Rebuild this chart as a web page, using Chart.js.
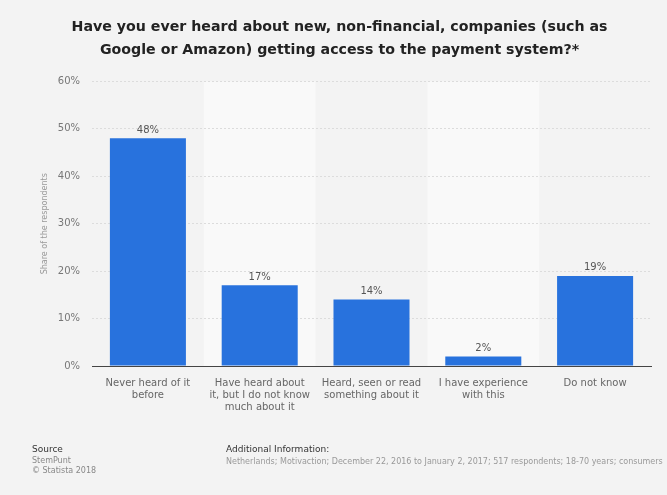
<!DOCTYPE html>
<html lang="en">

<head>
    <meta charset="UTF-8">
    <title>Non-financial companies and the payment system</title>
    <script src="https://cdn.jsdelivr.net/npm/chart.js"></script>
    <style>
        body { margin: 0; background: #f3f3f3; }
    </style>
</head>

<body>
    <canvas id="myChart" width="667" height="495"></canvas>
    <script>
        const categories = [
            ['Never heard of it', 'before'],
            ['Have heard about', 'it, but I do not know', 'much about it'],
            ['Heard, seen or read', 'something about it'],
            ['I have experience', 'with this'],
            ['Do not know']
        ];
        const shares = [48, 17, 14, 2, 19];
        const yTicks = [0, 10, 20, 30, 40, 50, 60];

        const titleLines = [
            'Have you ever heard about new, non-financial, companies (such as',
            'Google or Amazon) getting access to the payment system?*'
        ];

        // page background + lighter bands behind every second category
        const bandsPlugin = {
            id: 'bands',
            beforeDraw(chart) {
                const ctx = chart.ctx;
                const area = chart.chartArea;
                const x = chart.scales.x;
                ctx.save();
                ctx.fillStyle = '#f3f3f3';
                ctx.fillRect(0, 0, chart.width, chart.height);
                const step = x.getPixelForValue(1) - x.getPixelForValue(0);
                ctx.fillStyle = '#f9f9f9';
                categories.forEach((c, i) => {
                    if (i % 2 === 1) {
                        const cx = x.getPixelForValue(i);
                        ctx.fillRect(cx - step / 2, area.top, step, area.bottom - area.top);
                    }
                });
                ctx.restore();
            }
        };

        // value labels above bars
        const valueLabels = {
            id: 'valueLabels',
            afterDatasetsDraw(chart) {
                const ctx = chart.ctx;
                const meta = chart.getDatasetMeta(0);
                ctx.save();
                ctx.font = '10px "DejaVu Sans"';
                ctx.fillStyle = '#555';
                ctx.textAlign = 'center';
                ctx.textBaseline = 'bottom';
                meta.data.forEach((bar, i) => {
                    ctx.fillText(shares[i] + '%', bar.x, bar.y - 3);
                });
                ctx.restore();
            }
        };

        // source / additional info footer
        const footer = {
            id: 'footer',
            afterDraw(chart) {
                const ctx = chart.ctx;
                ctx.save();
                ctx.textBaseline = 'alphabetic';
                ctx.fillStyle = '#333';
                ctx.font = '9px "DejaVu Sans"';
                ctx.fillText('Source', 32, 452);
                ctx.fillText('Additional Information:', 226, 452);
                ctx.fillStyle = '#888';
                ctx.font = '8px "DejaVu Sans"';
                ctx.fillText('StemPunt', 32, 463);
                ctx.fillText('\u00a9 Statista 2018', 32, 473);
                ctx.fillStyle = '#999';
                ctx.fillText('Netherlands; Motivaction; December 22, 2016 to January 2, 2017; 517 respondents; 18-70 years; consumers', 226, 464);
                ctx.restore();
            }
        };

        new Chart(document.getElementById('myChart'), {
            type: 'bar',
            data: {
                labels: categories,
                datasets: [{
                    data: shares,
                    backgroundColor: '#2872dd',
                    categoryPercentage: 1,
                    barPercentage: 0.68
                }]
            },
            options: {
                responsive: false,
                animation: false,
                layout: { padding: { left: 28, right: 16, top: 0, bottom: 0 } },
                plugins: {
                    legend: { display: false },
                    tooltip: { enabled: false },
                    title: {
                        display: true,
                        text: titleLines,
                        color: '#222',
                        font: { family: 'DejaVu Sans', size: 14.2, weight: 'bold', lineHeight: 1.6 },
                        padding: { top: 16, bottom: 20 }
                    }
                },
                scales: {
                    x: {
                        grid: { display: false },
                        border: { display: true, color: '#444', width: 1 },
                        ticks: {
                            color: '#666',
                            font: { family: 'DejaVu Sans', size: 10 },
                            maxRotation: 0,
                            padding: 3
                        },
                        afterFit(scale) { scale.height = 129; }
                    },
                    y: {
                        min: 0,
                        max: 60,
                        afterBuildTicks(scale) { scale.ticks = yTicks.map(v => ({ value: v })); },
                        grid: { color: '#dcdcdc', drawTicks: false },
                        border: { display: false, dash: [2, 2] },
                        ticks: {
                            color: '#777',
                            font: { family: 'DejaVu Sans', size: 10 },
                            padding: 12,
                            callback: v => v + '%'
                        },
                        title: {
                            display: true,
                            text: 'Share of the respondents',
                            color: '#999',
                            font: { family: 'DejaVu Sans', size: 8 },
                            padding: { top: 12, bottom: 0 }
                        },
                        afterFit(scale) { scale.width = 64; }
                    }
                }
            },
            plugins: [bandsPlugin, valueLabels, footer]
        });
    </script>
</body>

</html>
